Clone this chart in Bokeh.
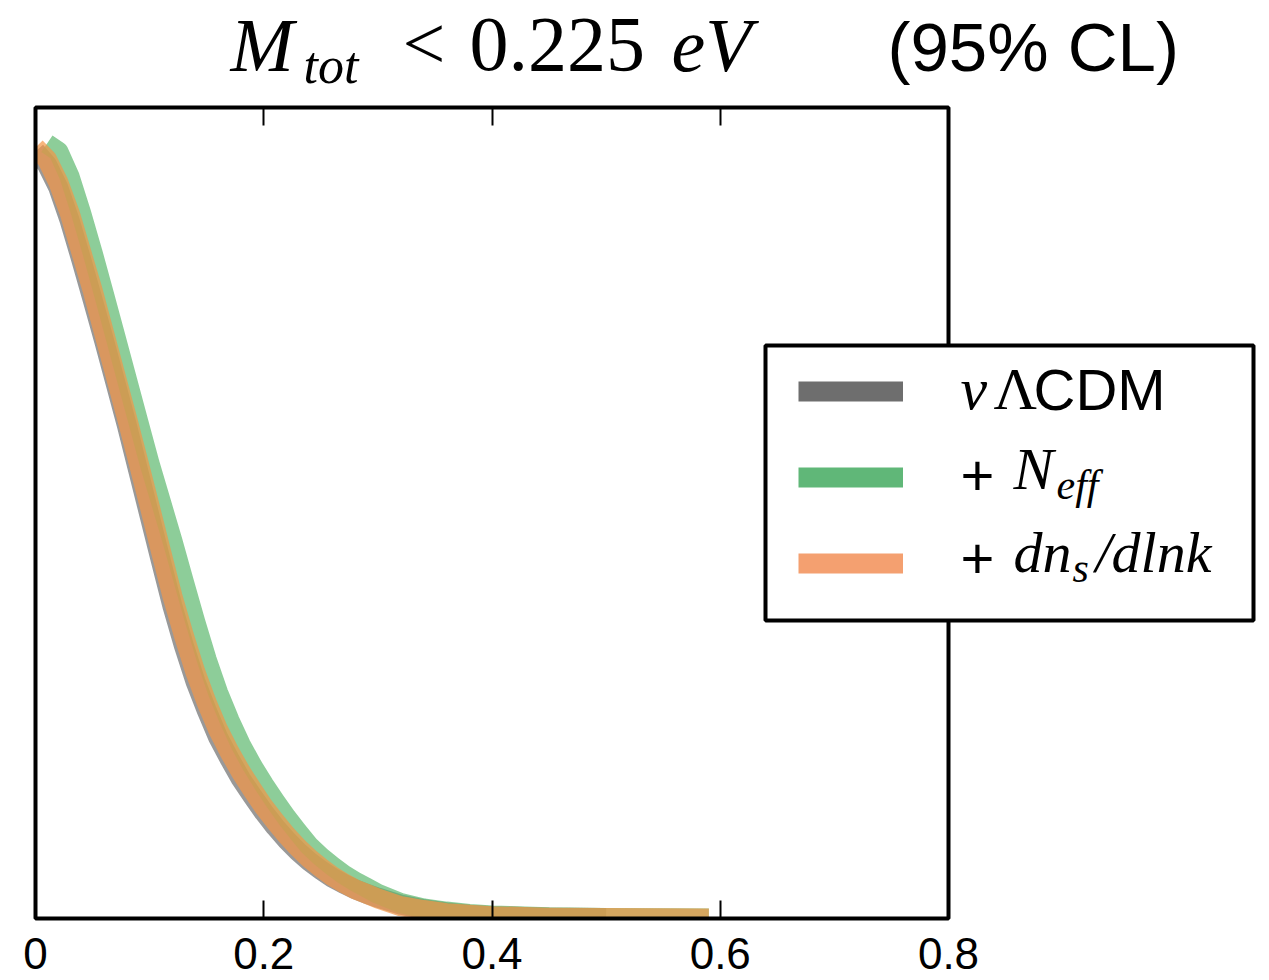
from bokeh.plotting import figure
from bokeh.models import (Label, Legend, LegendItem, LinearAxis, FixedTicker,
                          Range1d, BoxAnnotation)
from bokeh.embed import file_html
from bokeh.resources import INLINE

# ---------------- data ----------------
x_fine = [0.00, 0.01, 0.02, 0.03, 0.04, 0.05, 0.06, 0.07, 0.08, 0.09, 0.10,
          0.11, 0.12, 0.13, 0.14, 0.15, 0.16, 0.17, 0.18, 0.19, 0.20,
          0.21, 0.22, 0.23, 0.24, 0.25, 0.26, 0.27, 0.28, 0.29, 0.30,
          0.32, 0.34, 0.36, 0.38, 0.40, 0.45, 0.50, 0.55, 0.59]

x_gray = x_fine[:38]
y_gray = [0.995, 0.978, 0.948, 0.905, 0.855, 0.803, 0.750, 0.695, 0.640, 0.581, 0.522,
          0.463, 0.405, 0.354, 0.308, 0.270, 0.235, 0.207, 0.181, 0.159, 0.138,
          0.119, 0.102, 0.087, 0.074, 0.063, 0.053, 0.045, 0.038, 0.032, 0.027,
          0.018, 0.012, 0.008, 0.005, 0.003, 0.001, 0.0005]

x_green = x_fine[1:]
y_green = [1.005, 0.995, 0.962, 0.915, 0.864, 0.810, 0.755, 0.700, 0.645, 0.590,
           0.540, 0.490, 0.437, 0.385, 0.336, 0.293, 0.257, 0.225, 0.198, 0.174,
           0.152, 0.131, 0.112, 0.094, 0.080, 0.068, 0.057, 0.048, 0.040, 0.032,
           0.020, 0.013, 0.009, 0.006, 0.004, 0.0015, 0.0008, 0.0003, 0.0]

x_orange = x_fine
y_orange = [1.000, 0.985, 0.955, 0.915, 0.865, 0.815, 0.760, 0.705, 0.650, 0.593, 0.535,
            0.476, 0.418, 0.367, 0.320, 0.280, 0.245, 0.216, 0.190, 0.167, 0.145,
            0.126, 0.108, 0.092, 0.078, 0.066, 0.055, 0.046, 0.038, 0.032, 0.026,
            0.016, 0.011, 0.007, 0.005, 0.003, 0.001, 0.0005, 0.0002, 0.0]

x_ticks = [0, 0.2, 0.4, 0.6, 0.8]
x_tick_labels = ["0", "0.2", "0.4", "0.6", "0.8"]

line_colors = ["#6e6e6e", "#5cb86e", "#f49646"]
legend_colors = ["#6e6e6e", "#60b778", "#f4a070"]

# axes box limits (data units)
X_MIN, X_MAX = 0.0, 0.8
Y_MIN, Y_MAX = 0.0, 1.052

# ---------------- page geometry (pixels) ----------------
W, H = 1269, 980
BOX_L, BOX_R, BOX_T, BOX_B = 35, 948, 107, 918
sx_per = (BOX_R - BOX_L) / (X_MAX - X_MIN)
sy_per = (BOX_B - BOX_T) / (Y_MAX - Y_MIN)


def px_x(px):
    return X_MIN + (px - BOX_L) / sx_per


def px_y(py):
    return Y_MIN + (BOX_B - py) / sy_per


x_range = Range1d(px_x(0), px_x(W))
y_range = Range1d(px_y(H), px_y(0))

p = figure(width=W, height=H, x_range=x_range, y_range=y_range,
           output_backend="svg", toolbar_location=None,
           x_axis_location="below", y_axis_location=None,
           min_border=0)
p.min_border_left = p.min_border_right = p.min_border_top = p.min_border_bottom = 0
p.grid.visible = False
p.outline_line_color = None
p.background_fill_color = "white"
p.border_fill_color = "white"
p.extra_y_ranges = {"hidden": Range1d(100, 101)}

# ---------------- curves ----------------
r_gray = p.line(x_gray, y_gray, line_width=20, line_color=line_colors[0],
                line_alpha=0.7, line_join="round")
r_green = p.line(x_green, y_green, line_width=20, line_color=line_colors[1],
                 line_alpha=0.7, line_join="round")
r_orange = p.line(x_orange, y_orange, line_width=20, line_color=line_colors[2],
                  line_alpha=0.7, line_join="round")

# masks: curves are clipped at the axes box (left and bottom edges)
p.add_layout(BoxAnnotation(right=X_MIN, fill_color="white", fill_alpha=1,
                           line_color=None, level="glyph"))
p.add_layout(BoxAnnotation(top=Y_MIN, fill_color="white", fill_alpha=1,
                           line_color=None, level="glyph"))

# ---------------- axes ----------------
ax = p.xaxis[0]
ax.fixed_location = Y_MIN
ax.bounds = (X_MIN, X_MAX)
ax.ticker = FixedTicker(ticks=x_ticks, minor_ticks=[])
ax.major_label_overrides = {t: l for t, l in zip(x_ticks, x_tick_labels)}
ax.major_tick_in = 18
ax.major_tick_out = 0
ax.major_tick_line_width = 2
ax.major_tick_line_color = "black"
ax.minor_tick_line_color = None
ax.axis_line_color = None
ax.major_label_text_font = "Liberation Sans"
ax.major_label_text_font_size = "44px"
ax.major_label_text_color = "black"
ax.major_label_standoff = 19

top = LinearAxis(ticker=FixedTicker(ticks=x_ticks, minor_ticks=[]))
top.fixed_location = Y_MAX
top.bounds = (X_MIN, X_MAX)
top.major_label_overrides = {t: "" for t in x_ticks}
top.major_label_text_color = None
top.major_tick_in = 18
top.major_tick_out = 0
top.major_tick_line_width = 2
top.major_tick_line_color = "black"
top.minor_tick_line_color = None
top.axis_line_color = None
p.add_layout(top, "above")

# axes box
p.add_layout(BoxAnnotation(left=X_MIN, right=X_MAX, bottom=Y_MIN, top=Y_MAX,
                           fill_alpha=0, line_color="black", line_width=4,
                           line_alpha=1))

# ---------------- legend ----------------
# legend frame
p.add_layout(BoxAnnotation(left=px_x(765), right=px_x(1253),
                           top=px_y(345), bottom=px_y(620),
                           fill_color="white", fill_alpha=1,
                           line_color="black", line_width=4, line_alpha=1))
# legend swatches (proxies drawn off-screen, opaque like the reference legend)
proxies = [p.line(xs, ys, line_width=20, line_color=c, line_alpha=1.0,
                  y_range_name="hidden")
           for xs, ys, c in zip([x_gray, x_green, x_orange],
                                [y_gray, y_green, y_orange], legend_colors)]
legend = Legend(items=[LegendItem(label=" ", renderers=[r]) for r in proxies],
                location=(798, H - 575), orientation="vertical",
                glyph_width=105, glyph_height=24, label_height=24,
                label_width=240, label_standoff=57, spacing=62,
                padding=38, margin=0,
                label_text_font_size="10px",
                border_line_color=None,
                background_fill_alpha=0)
p.add_layout(legend, "center")

# ---------------- texts ----------------
def lab(x, y_base, text, font, size, style="normal"):
    # empirical shift so that the glyph baseline lands on y_base
    s = float(size.replace("px", ""))
    p.add_layout(Label(x=x, y=H - (y_base - 0.36 * s), x_units="screen",
                       y_units="screen", text=text, text_font=font,
                       text_font_size=size, text_font_style=style,
                       text_color="black", text_baseline="alphabetic",
                       text_align="left", level="overlay"))


SERIF = "Liberation Serif"
SANS = "Liberation Sans"

# title: M_tot < 0.225 eV    (95% CL)
lab(230, 72, "M", SERIF, "76px", "italic")
lab(303, 84, "tot", SERIF, "52px", "italic")
lab(402, 70, "<", SERIF, "76px")
lab(469, 72, "0.225", SERIF, "78px")
lab(671, 72, "eV", SERIF, "76px", "italic")
lab(887, 72, "(95% CL)", SANS, "69px")

# legend labels
lab(960, 410, "\u03bd", SERIF, "60px", "italic")
lab(993, 410, "\u039b", SERIF, "60px")
lab(1033, 410, "CDM", SANS, "58px")

lab(960, 495, "+", SANS, "58px")
lab(1013, 490, "N", SERIF, "60px", "italic")
lab(1056, 500, "eff", SERIF, "42px", "italic")

lab(960, 578, "+", SANS, "58px")
lab(1013, 573, "dn", SERIF, "58px", "italic")
lab(1072, 583, "s", SERIF, "42px", "italic")
lab(1095, 573, "/dlnk", SERIF, "58px", "italic")

open("out.html", "w").write(file_html(p, INLINE))
